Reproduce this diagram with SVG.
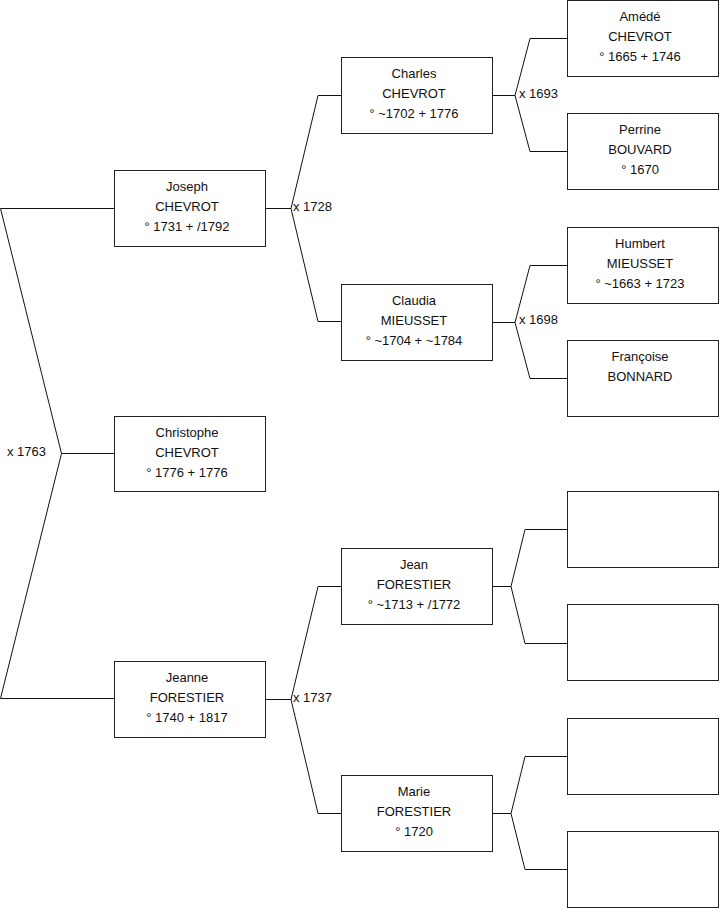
<svg xmlns="http://www.w3.org/2000/svg" width="719" height="908" viewBox="0 0 719 908">
<style>
.box{fill:#fff;stroke:#222;stroke-width:1}
.ln{fill:none;stroke:#111;stroke-width:1}
text{font-family:"Liberation Sans",Arial,sans-serif;font-size:13px;fill:#111}
.c{text-anchor:middle}
</style>
<rect width="719" height="908" fill="#fff"/>
<g id="connectors">
<path class="ln" d="M0.5,208.5 H114.5 M0.5,208.5 L61.5,453.5 L0.5,698.5 H114.5 M61.5,453.5 H114.5"/>
<path class="ln" d="M265.5,208.5 H291 L318,95.5 H341.5 M291,208.5 L318,321.5 H341.5"/>
<path class="ln" d="M265.5,699.5 H291 L318,586.5 H341.5 M291,699.5 L318,813.5 H341.5"/>
<path class="ln" d="M492.5,95.5 H515 L530,38.5 H567.5 M515,95.5 L530,151.5 H567.5"/>
<path class="ln" d="M492.5,322.5 H515 L530,265.5 H567.5 M515,322.5 L530,378.5 H567.5"/>
<path class="ln" d="M492.5,586.5 H511 L525,529.5 H567.5 M511,586.5 L525,643.5 H567.5"/>
<path class="ln" d="M492.5,813.5 H511 L525,756.5 H567.5 M511,813.5 L525,869.5 H567.5"/>
<text x="7" y="456">x 1763</text>
<text x="293" y="211">x 1728</text>
<text x="293" y="702">x 1737</text>
<text x="519" y="97.5">x 1693</text>
<text x="519" y="324">x 1698</text>
</g>
<g id="joseph"><rect class="box" x="114.5" y="170.5" width="151" height="76"/>
<text class="c" x="187" y="191">Joseph</text><text class="c" x="187" y="211">CHEVROT</text><text class="c" x="187" y="231">° 1731 + /1792</text></g>
<g id="christophe"><rect class="box" x="114.5" y="416.5" width="151" height="75"/>
<text class="c" x="187" y="437">Christophe</text><text class="c" x="187" y="457">CHEVROT</text><text class="c" x="187" y="477">° 1776 + 1776</text></g>
<g id="jeanne"><rect class="box" x="114.5" y="661.5" width="151" height="76"/>
<text class="c" x="187" y="682">Jeanne</text><text class="c" x="187" y="702">FORESTIER</text><text class="c" x="187" y="722">° 1740 + 1817</text></g>
<g id="charles"><rect class="box" x="341.5" y="57.5" width="151" height="76"/>
<text class="c" x="414" y="78">Charles</text><text class="c" x="414" y="98">CHEVROT</text><text class="c" x="414" y="118">° ~1702 + 1776</text></g>
<g id="claudia"><rect class="box" x="341.5" y="284.5" width="151" height="76"/>
<text class="c" x="414" y="305">Claudia</text><text class="c" x="414" y="325">MIEUSSET</text><text class="c" x="414" y="345">° ~1704 + ~1784</text></g>
<g id="jean"><rect class="box" x="341.5" y="548.5" width="151" height="76"/>
<text class="c" x="414" y="569">Jean</text><text class="c" x="414" y="589">FORESTIER</text><text class="c" x="414" y="609">° ~1713 + /1772</text></g>
<g id="marie"><rect class="box" x="341.5" y="775.5" width="151" height="76"/>
<text class="c" x="414" y="796">Marie</text><text class="c" x="414" y="816">FORESTIER</text><text class="c" x="414" y="836">° 1720</text></g>
<g id="amede"><rect class="box" x="567.5" y="0.5" width="151" height="76"/>
<text class="c" x="640" y="21">Amédé</text><text class="c" x="640" y="41">CHEVROT</text><text class="c" x="640" y="61">° 1665 + 1746</text></g>
<g id="perrine"><rect class="box" x="567.5" y="113.5" width="151" height="76"/>
<text class="c" x="640" y="134">Perrine</text><text class="c" x="640" y="154">BOUVARD</text><text class="c" x="640" y="174">° 1670</text></g>
<g id="humbert"><rect class="box" x="567.5" y="227.5" width="151" height="76"/>
<text class="c" x="640" y="248">Humbert</text><text class="c" x="640" y="268">MIEUSSET</text><text class="c" x="640" y="288">° ~1663 + 1723</text></g>
<g id="francoise"><rect class="box" x="567.5" y="340.5" width="151" height="76"/>
<text class="c" x="640" y="361">Françoise</text><text class="c" x="640" y="381">BONNARD</text></g>
<g id="empty1"><rect class="box" x="567.5" y="491.5" width="151" height="76"/></g>
<g id="empty2"><rect class="box" x="567.5" y="604.5" width="151" height="76"/></g>
<g id="empty3"><rect class="box" x="567.5" y="718.5" width="151" height="76"/></g>
<g id="empty4"><rect class="box" x="567.5" y="831.5" width="151" height="76"/></g>
</svg>
